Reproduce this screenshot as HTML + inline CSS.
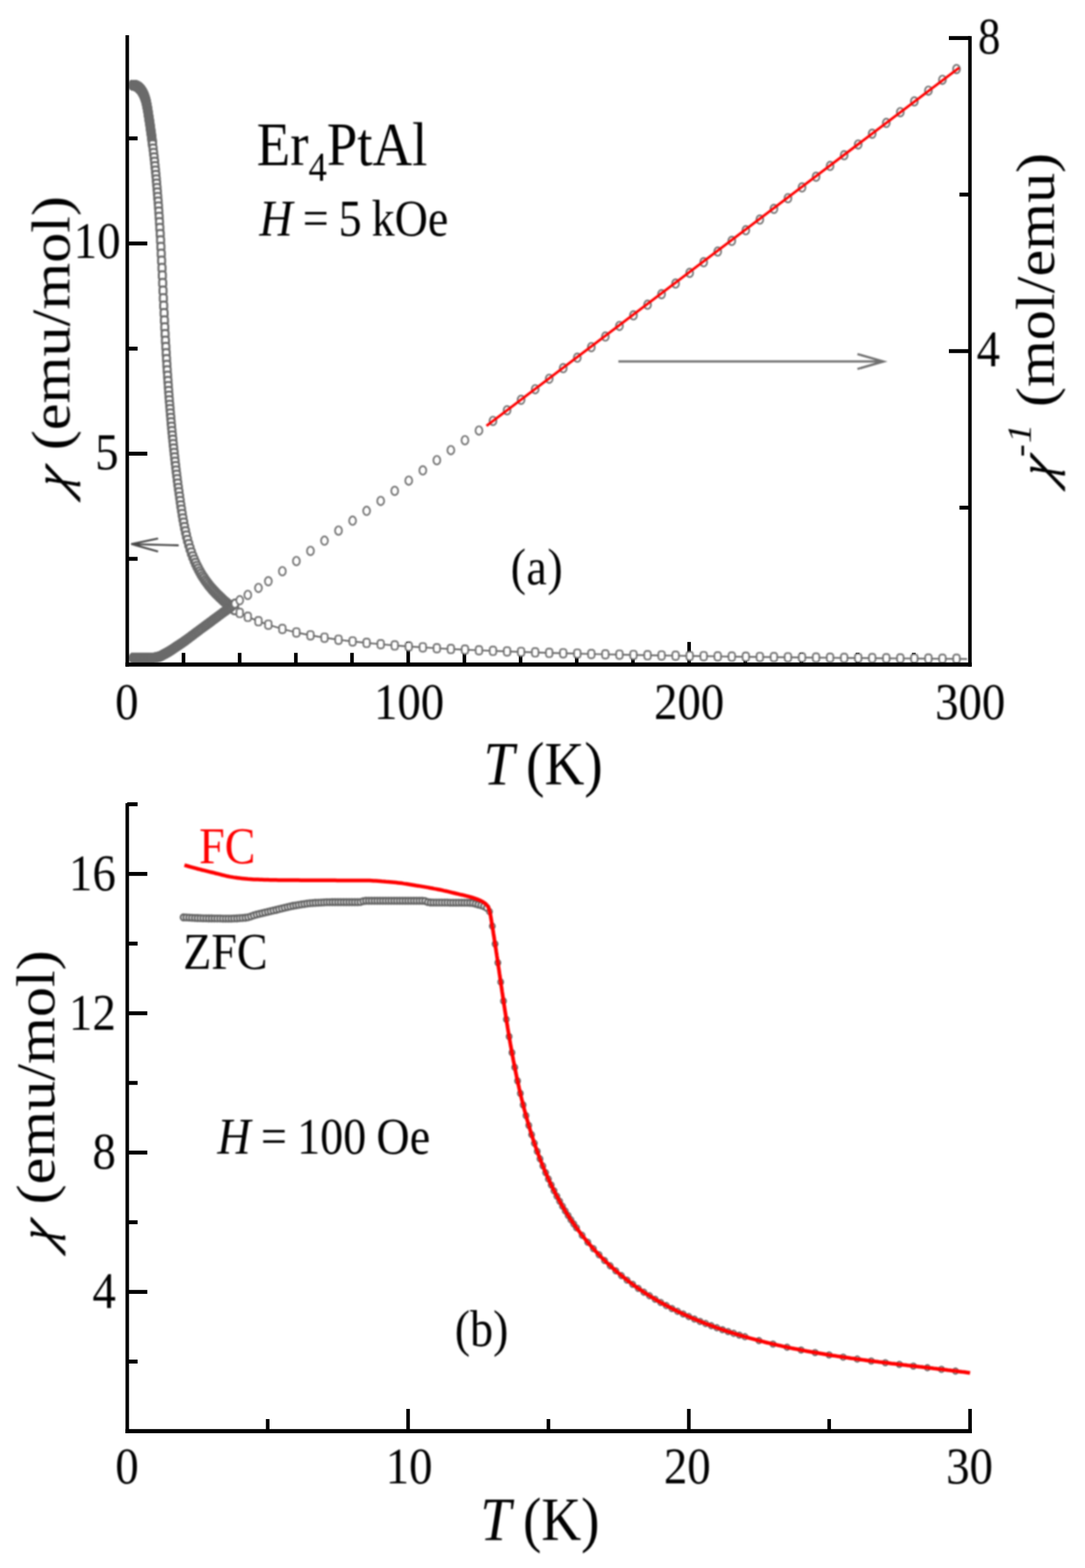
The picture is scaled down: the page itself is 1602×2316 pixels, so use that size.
<!DOCTYPE html>
<html lang="en">
<head>
<meta charset="utf-8">
<title>Er4PtAl magnetic susceptibility</title>
<style>
html, body { margin: 0; padding: 0; background: #ffffff; }
body { width: 1602px; height: 2316px; overflow: hidden; }
svg { display: block; }
.soft { filter: blur(0.8px); }
text { font-family: 'Liberation Serif', 'DejaVu Serif', serif; white-space: pre; }
</style>
</head>
<body>
<svg width="1602" height="2316" viewBox="0 0 1602 2316">
<rect width="1602" height="2316" fill="#ffffff"/>

<g>
<g id="panel-a">
<rect x="268.3" y="964.3" width="5.3" height="17.2" fill="#000"/>
<rect x="351.2" y="964.3" width="5.3" height="17.2" fill="#000"/>
<rect x="434.2" y="964.3" width="5.3" height="17.2" fill="#000"/>
<rect x="517.1" y="964.3" width="5.3" height="17.2" fill="#000"/>
<rect x="600.1" y="948.2" width="5.3" height="33.3" fill="#000"/>
<rect x="683" y="964.3" width="5.3" height="17.2" fill="#000"/>
<rect x="766" y="964.3" width="5.3" height="17.2" fill="#000"/>
<rect x="848.9" y="964.3" width="5.3" height="17.2" fill="#000"/>
<rect x="931.9" y="964.3" width="5.3" height="17.2" fill="#000"/>
<rect x="1014.8" y="948.2" width="5.3" height="33.3" fill="#000"/>
<rect x="1097.8" y="964.3" width="5.3" height="17.2" fill="#000"/>
<rect x="1180.7" y="964.3" width="5.3" height="17.2" fill="#000"/>
<rect x="1263.6" y="964.3" width="5.3" height="17.2" fill="#000"/>
<rect x="1346.6" y="964.3" width="5.3" height="17.2" fill="#000"/>
<rect x="187.9" y="201.5" width="15.3" height="5.8" fill="#000"/>
<rect x="187.9" y="356.7" width="29.6" height="5.8" fill="#000"/>
<rect x="187.9" y="512" width="15.3" height="5.8" fill="#000"/>
<rect x="187.9" y="667.2" width="29.6" height="5.8" fill="#000"/>
<rect x="187.9" y="822.5" width="15.3" height="5.8" fill="#000"/>
<rect x="1401" y="53.3" width="31.1" height="5.8" fill="#000"/>
<rect x="1416.6" y="284.5" width="15.5" height="5.8" fill="#000"/>
<rect x="1401" y="515.7" width="31.1" height="5.8" fill="#000"/>
<rect x="1416.6" y="746.9" width="15.5" height="5.8" fill="#000"/>
<g class="soft">
<path d="M354.0 905.3 L365.9 911.1 L381.6 917.6 L396.2 922.7 L416.9 929.0 L437.6 934.2 L458.4 938.4 L479.1 941.9 L499.8 944.9 L520.6 947.4 L541.3 949.6 L562.1 951.5 L582.8 953.3 L603.5 954.8 L624.3 956.2 L645.0 957.5 L665.7 958.6 L686.5 959.6 L707.2 960.5 L727.9 961.3 L748.7 962.2 L769.4 962.9 L790.2 963.6 L810.9 964.3 L831.6 964.9 L852.4 965.4 L873.1 966.0 L893.8 966.5 L914.6 966.9 L935.3 967.4 L956.1 967.8 L976.8 968.2 L997.5 968.5 L1018.3 968.9 L1039.0 969.2 L1059.7 969.5 L1080.5 969.8 L1101.2 970.1 L1121.9 970.4 L1142.7 970.6 L1163.4 970.9 L1184.2 971.1 L1204.9 971.3 L1225.6 971.5 L1246.4 971.8 L1267.1 971.9 L1287.8 972.1 L1308.6 972.3 L1329.3 972.5 L1350.0 972.7 L1370.8 972.8 L1391.5 973.0 L1412.3 973.1 L1428 973.4" fill="none" stroke="#555" stroke-width="2.2"/>
<g fill="#fff" stroke="#6b6b6b" stroke-width="3">
<rect x="191.1" y="119.4" width="10.4" height="12.6" rx="3.6"/>
<rect x="191.3" y="119.5" width="10.4" height="12.6" rx="3.6"/>
<rect x="191.5" y="119.5" width="10.4" height="12.6" rx="3.6"/>
<rect x="191.7" y="119.5" width="10.4" height="12.6" rx="3.6"/>
<rect x="191.9" y="119.5" width="10.4" height="12.6" rx="3.6"/>
<rect x="192.1" y="119.6" width="10.4" height="12.6" rx="3.6"/>
<rect x="192.3" y="119.6" width="10.4" height="12.6" rx="3.6"/>
<rect x="192.5" y="119.6" width="10.4" height="12.6" rx="3.6"/>
<rect x="192.8" y="119.7" width="10.4" height="12.6" rx="3.6"/>
<rect x="193.0" y="119.7" width="10.4" height="12.6" rx="3.6"/>
<rect x="193.2" y="119.8" width="10.4" height="12.6" rx="3.6"/>
<rect x="193.4" y="119.8" width="10.4" height="12.6" rx="3.6"/>
<rect x="193.6" y="119.9" width="10.4" height="12.6" rx="3.6"/>
<rect x="193.8" y="119.9" width="10.4" height="12.6" rx="3.6"/>
<rect x="194.0" y="120.0" width="10.4" height="12.6" rx="3.6"/>
<rect x="194.2" y="120.1" width="10.4" height="12.6" rx="3.6"/>
<rect x="194.4" y="120.1" width="10.4" height="12.6" rx="3.6"/>
<rect x="194.6" y="120.2" width="10.4" height="12.6" rx="3.6"/>
<rect x="194.8" y="120.3" width="10.4" height="12.6" rx="3.6"/>
<rect x="195.0" y="120.3" width="10.4" height="12.6" rx="3.6"/>
<rect x="195.2" y="120.4" width="10.4" height="12.6" rx="3.6"/>
<rect x="195.4" y="120.5" width="10.4" height="12.6" rx="3.6"/>
<rect x="195.7" y="120.6" width="10.4" height="12.6" rx="3.6"/>
<rect x="195.9" y="120.7" width="10.4" height="12.6" rx="3.6"/>
<rect x="196.1" y="120.8" width="10.4" height="12.6" rx="3.6"/>
<rect x="196.3" y="120.9" width="10.4" height="12.6" rx="3.6"/>
<rect x="196.5" y="121.0" width="10.4" height="12.6" rx="3.6"/>
<rect x="196.7" y="121.1" width="10.4" height="12.6" rx="3.6"/>
<rect x="196.9" y="121.2" width="10.4" height="12.6" rx="3.6"/>
<rect x="197.1" y="121.3" width="10.4" height="12.6" rx="3.6"/>
<rect x="197.3" y="121.4" width="10.4" height="12.6" rx="3.6"/>
<rect x="197.5" y="121.5" width="10.4" height="12.6" rx="3.6"/>
<rect x="197.7" y="121.7" width="10.4" height="12.6" rx="3.6"/>
<rect x="197.9" y="121.8" width="10.4" height="12.6" rx="3.6"/>
<rect x="198.1" y="121.9" width="10.4" height="12.6" rx="3.6"/>
<rect x="198.4" y="122.1" width="10.4" height="12.6" rx="3.6"/>
<rect x="198.6" y="122.2" width="10.4" height="12.6" rx="3.6"/>
<rect x="198.8" y="122.4" width="10.4" height="12.6" rx="3.6"/>
<rect x="199.0" y="122.5" width="10.4" height="12.6" rx="3.6"/>
<rect x="199.2" y="122.7" width="10.4" height="12.6" rx="3.6"/>
<rect x="199.4" y="122.8" width="10.4" height="12.6" rx="3.6"/>
<rect x="199.6" y="123.0" width="10.4" height="12.6" rx="3.6"/>
<rect x="199.8" y="123.2" width="10.4" height="12.6" rx="3.6"/>
<rect x="200.0" y="123.3" width="10.4" height="12.6" rx="3.6"/>
<rect x="200.2" y="123.5" width="10.4" height="12.6" rx="3.6"/>
<rect x="200.4" y="123.7" width="10.4" height="12.6" rx="3.6"/>
<rect x="200.6" y="123.9" width="10.4" height="12.6" rx="3.6"/>
<rect x="200.8" y="124.1" width="10.4" height="12.6" rx="3.6"/>
<rect x="201.0" y="124.3" width="10.4" height="12.6" rx="3.6"/>
<rect x="201.3" y="124.5" width="10.4" height="12.6" rx="3.6"/>
<rect x="201.5" y="124.7" width="10.4" height="12.6" rx="3.6"/>
<rect x="201.7" y="125.0" width="10.4" height="12.6" rx="3.6"/>
<rect x="201.9" y="125.2" width="10.4" height="12.6" rx="3.6"/>
<rect x="202.1" y="125.4" width="10.4" height="12.6" rx="3.6"/>
<rect x="202.3" y="125.7" width="10.4" height="12.6" rx="3.6"/>
<rect x="202.5" y="125.9" width="10.4" height="12.6" rx="3.6"/>
<rect x="202.7" y="126.2" width="10.4" height="12.6" rx="3.6"/>
<rect x="202.9" y="126.4" width="10.4" height="12.6" rx="3.6"/>
<rect x="203.1" y="126.7" width="10.4" height="12.6" rx="3.6"/>
<rect x="203.3" y="127.0" width="10.4" height="12.6" rx="3.6"/>
<rect x="203.5" y="127.3" width="10.4" height="12.6" rx="3.6"/>
<rect x="203.7" y="127.6" width="10.4" height="12.6" rx="3.6"/>
<rect x="204.0" y="127.9" width="10.4" height="12.6" rx="3.6"/>
<rect x="204.2" y="128.2" width="10.4" height="12.6" rx="3.6"/>
<rect x="204.4" y="128.5" width="10.4" height="12.6" rx="3.6"/>
<rect x="204.6" y="128.8" width="10.4" height="12.6" rx="3.6"/>
<rect x="204.8" y="129.2" width="10.4" height="12.6" rx="3.6"/>
<rect x="205.0" y="129.5" width="10.4" height="12.6" rx="3.6"/>
<rect x="205.2" y="129.9" width="10.4" height="12.6" rx="3.6"/>
<rect x="205.4" y="130.2" width="10.4" height="12.6" rx="3.6"/>
<rect x="205.6" y="130.6" width="10.4" height="12.6" rx="3.6"/>
<rect x="205.8" y="131.0" width="10.4" height="12.6" rx="3.6"/>
<rect x="206.0" y="131.4" width="10.4" height="12.6" rx="3.6"/>
<rect x="206.2" y="131.8" width="10.4" height="12.6" rx="3.6"/>
<rect x="206.4" y="132.2" width="10.4" height="12.6" rx="3.6"/>
<rect x="206.6" y="132.6" width="10.4" height="12.6" rx="3.6"/>
<rect x="206.9" y="133.1" width="10.4" height="12.6" rx="3.6"/>
<rect x="207.1" y="133.5" width="10.4" height="12.6" rx="3.6"/>
<rect x="207.3" y="134.0" width="10.4" height="12.6" rx="3.6"/>
<rect x="207.5" y="134.5" width="10.4" height="12.6" rx="3.6"/>
<rect x="207.7" y="135.0" width="10.4" height="12.6" rx="3.6"/>
<rect x="207.9" y="135.5" width="10.4" height="12.6" rx="3.6"/>
<rect x="208.1" y="136.0" width="10.4" height="12.6" rx="3.6"/>
<rect x="208.3" y="136.6" width="10.4" height="12.6" rx="3.6"/>
<rect x="208.5" y="137.1" width="10.4" height="12.6" rx="3.6"/>
<rect x="208.7" y="137.7" width="10.4" height="12.6" rx="3.6"/>
<rect x="208.9" y="138.3" width="10.4" height="12.6" rx="3.6"/>
<rect x="209.1" y="138.9" width="10.4" height="12.6" rx="3.6"/>
<rect x="209.3" y="139.6" width="10.4" height="12.6" rx="3.6"/>
<rect x="209.6" y="140.3" width="10.4" height="12.6" rx="3.6"/>
<rect x="209.8" y="141.0" width="10.4" height="12.6" rx="3.6"/>
<rect x="210.0" y="141.7" width="10.4" height="12.6" rx="3.6"/>
<rect x="210.2" y="142.5" width="10.4" height="12.6" rx="3.6"/>
<rect x="210.4" y="143.3" width="10.4" height="12.6" rx="3.6"/>
<rect x="210.6" y="144.1" width="10.4" height="12.6" rx="3.6"/>
<rect x="210.8" y="145.0" width="10.4" height="12.6" rx="3.6"/>
<rect x="211.0" y="145.9" width="10.4" height="12.6" rx="3.6"/>
<rect x="211.2" y="146.9" width="10.4" height="12.6" rx="3.6"/>
<rect x="211.4" y="147.9" width="10.4" height="12.6" rx="3.6"/>
<rect x="211.6" y="148.9" width="10.4" height="12.6" rx="3.6"/>
<rect x="211.8" y="150.0" width="10.4" height="12.6" rx="3.6"/>
<rect x="212.0" y="151.1" width="10.4" height="12.6" rx="3.6"/>
<rect x="212.2" y="152.3" width="10.4" height="12.6" rx="3.6"/>
<rect x="212.5" y="153.5" width="10.4" height="12.6" rx="3.6"/>
<rect x="212.7" y="154.8" width="10.4" height="12.6" rx="3.6"/>
<rect x="212.9" y="156.0" width="10.4" height="12.6" rx="3.6"/>
<rect x="213.1" y="157.3" width="10.4" height="12.6" rx="3.6"/>
<rect x="213.3" y="158.6" width="10.4" height="12.6" rx="3.6"/>
<rect x="213.5" y="159.9" width="10.4" height="12.6" rx="3.6"/>
<rect x="213.7" y="161.2" width="10.4" height="12.6" rx="3.6"/>
<rect x="213.9" y="162.5" width="10.4" height="12.6" rx="3.6"/>
<rect x="214.1" y="163.8" width="10.4" height="12.6" rx="3.6"/>
<rect x="214.3" y="165.1" width="10.4" height="12.6" rx="3.6"/>
<rect x="214.5" y="166.5" width="10.4" height="12.6" rx="3.6"/>
<rect x="214.7" y="167.8" width="10.4" height="12.6" rx="3.6"/>
<rect x="214.9" y="169.2" width="10.4" height="12.6" rx="3.6"/>
<rect x="215.1" y="170.6" width="10.4" height="12.6" rx="3.6"/>
<rect x="215.4" y="171.9" width="10.4" height="12.6" rx="3.6"/>
<rect x="215.6" y="173.3" width="10.4" height="12.6" rx="3.6"/>
<rect x="215.8" y="174.7" width="10.4" height="12.6" rx="3.6"/>
<rect x="216.0" y="176.2" width="10.4" height="12.6" rx="3.6"/>
<rect x="216.2" y="177.6" width="10.4" height="12.6" rx="3.6"/>
<rect x="216.4" y="179.0" width="10.4" height="12.6" rx="3.6"/>
<rect x="216.6" y="180.5" width="10.4" height="12.6" rx="3.6"/>
<rect x="216.8" y="181.9" width="10.4" height="12.6" rx="3.6"/>
<rect x="217.0" y="183.4" width="10.4" height="12.6" rx="3.6"/>
<rect x="217.2" y="184.9" width="10.4" height="12.6" rx="3.6"/>
<rect x="217.4" y="186.4" width="10.4" height="12.6" rx="3.6"/>
<rect x="217.6" y="187.9" width="10.4" height="12.6" rx="3.6"/>
<rect x="217.8" y="189.4" width="10.4" height="12.6" rx="3.6"/>
<rect x="218.1" y="191.0" width="10.4" height="12.6" rx="3.6"/>
<rect x="218.3" y="192.5" width="10.4" height="12.6" rx="3.6"/>
<rect x="218.5" y="194.1" width="10.4" height="12.6" rx="3.6"/>
<rect x="218.7" y="195.7" width="10.4" height="12.6" rx="3.6"/>
<rect x="218.9" y="197.3" width="10.4" height="12.6" rx="3.6"/>
<rect x="219.1" y="198.9" width="10.4" height="12.6" rx="3.6"/>
<rect x="219.3" y="200.5" width="10.4" height="12.6" rx="3.6"/>
<rect x="219.5" y="202.1" width="10.4" height="12.6" rx="3.6"/>
<rect x="219.7" y="203.8" width="10.4" height="12.6" rx="3.6"/>
<rect x="219.9" y="205.5" width="10.4" height="12.6" rx="3.6"/>
<rect x="220.1" y="207.2" width="10.4" height="12.6" rx="3.6"/>
<rect x="220.9" y="213.6" width="10.4" height="12.6" rx="3.6"/>
<rect x="221.6" y="220.1" width="10.4" height="12.6" rx="3.6"/>
<rect x="222.4" y="226.5" width="10.4" height="12.6" rx="3.6"/>
<rect x="223.1" y="233.0" width="10.4" height="12.6" rx="3.6"/>
<rect x="223.7" y="239.5" width="10.4" height="12.6" rx="3.6"/>
<rect x="224.4" y="245.9" width="10.4" height="12.6" rx="3.6"/>
<rect x="225.0" y="252.4" width="10.4" height="12.6" rx="3.6"/>
<rect x="225.6" y="258.9" width="10.4" height="12.6" rx="3.6"/>
<rect x="226.1" y="265.3" width="10.4" height="12.6" rx="3.6"/>
<rect x="226.7" y="271.8" width="10.4" height="12.6" rx="3.6"/>
<rect x="227.2" y="278.3" width="10.4" height="12.6" rx="3.6"/>
<rect x="227.7" y="284.9" width="10.4" height="12.6" rx="3.6"/>
<rect x="228.3" y="291.8" width="10.4" height="12.6" rx="3.6"/>
<rect x="228.8" y="298.9" width="10.4" height="12.6" rx="3.6"/>
<rect x="229.3" y="306.4" width="10.4" height="12.6" rx="3.6"/>
<rect x="229.8" y="314.2" width="10.4" height="12.6" rx="3.6"/>
<rect x="230.3" y="322.3" width="10.4" height="12.6" rx="3.6"/>
<rect x="230.8" y="330.8" width="10.4" height="12.6" rx="3.6"/>
<rect x="231.4" y="339.7" width="10.4" height="12.6" rx="3.6"/>
<rect x="231.9" y="349.0" width="10.4" height="12.6" rx="3.6"/>
<rect x="232.4" y="358.7" width="10.4" height="12.6" rx="3.6"/>
<rect x="232.9" y="368.7" width="10.4" height="12.6" rx="3.6"/>
<rect x="233.4" y="379.1" width="10.4" height="12.6" rx="3.6"/>
<rect x="234.0" y="389.8" width="10.4" height="12.6" rx="3.6"/>
<rect x="234.5" y="400.8" width="10.4" height="12.6" rx="3.6"/>
<rect x="235.0" y="412.0" width="10.4" height="12.6" rx="3.6"/>
<rect x="235.5" y="423.3" width="10.4" height="12.6" rx="3.6"/>
<rect x="236.0" y="434.5" width="10.4" height="12.6" rx="3.6"/>
<rect x="236.5" y="445.6" width="10.4" height="12.6" rx="3.6"/>
<rect x="237.1" y="456.6" width="10.4" height="12.6" rx="3.6"/>
<rect x="237.6" y="467.2" width="10.4" height="12.6" rx="3.6"/>
<rect x="238.1" y="477.5" width="10.4" height="12.6" rx="3.6"/>
<rect x="238.6" y="487.5" width="10.4" height="12.6" rx="3.6"/>
<rect x="239.1" y="497.2" width="10.4" height="12.6" rx="3.6"/>
<rect x="239.7" y="506.6" width="10.4" height="12.6" rx="3.6"/>
<rect x="240.2" y="515.7" width="10.4" height="12.6" rx="3.6"/>
<rect x="240.7" y="524.5" width="10.4" height="12.6" rx="3.6"/>
<rect x="241.2" y="532.9" width="10.4" height="12.6" rx="3.6"/>
<rect x="241.7" y="541.1" width="10.4" height="12.6" rx="3.6"/>
<rect x="242.3" y="549.1" width="10.4" height="12.6" rx="3.6"/>
<rect x="242.8" y="556.8" width="10.4" height="12.6" rx="3.6"/>
<rect x="243.3" y="564.2" width="10.4" height="12.6" rx="3.6"/>
<rect x="243.8" y="571.4" width="10.4" height="12.6" rx="3.6"/>
<rect x="244.3" y="578.4" width="10.4" height="12.6" rx="3.6"/>
<rect x="244.8" y="585.2" width="10.4" height="12.6" rx="3.6"/>
<rect x="245.4" y="591.9" width="10.4" height="12.6" rx="3.6"/>
<rect x="245.9" y="598.3" width="10.4" height="12.6" rx="3.6"/>
<rect x="246.4" y="604.8" width="10.4" height="12.6" rx="3.6"/>
<rect x="247.0" y="611.3" width="10.4" height="12.6" rx="3.6"/>
<rect x="247.5" y="617.8" width="10.4" height="12.6" rx="3.6"/>
<rect x="248.1" y="624.2" width="10.4" height="12.6" rx="3.6"/>
<rect x="248.7" y="630.7" width="10.4" height="12.6" rx="3.6"/>
<rect x="249.3" y="637.2" width="10.4" height="12.6" rx="3.6"/>
<rect x="250.0" y="643.6" width="10.4" height="12.6" rx="3.6"/>
<rect x="250.6" y="650.1" width="10.4" height="12.6" rx="3.6"/>
<rect x="251.3" y="656.6" width="10.4" height="12.6" rx="3.6"/>
<rect x="252.0" y="663.0" width="10.4" height="12.6" rx="3.6"/>
<rect x="252.7" y="669.5" width="10.4" height="12.6" rx="3.6"/>
<rect x="253.4" y="676.0" width="10.4" height="12.6" rx="3.6"/>
<rect x="254.2" y="682.4" width="10.4" height="12.6" rx="3.6"/>
<rect x="254.9" y="688.9" width="10.4" height="12.6" rx="3.6"/>
<rect x="255.7" y="695.3" width="10.4" height="12.6" rx="3.6"/>
<rect x="256.5" y="701.8" width="10.4" height="12.6" rx="3.6"/>
<rect x="257.3" y="708.2" width="10.4" height="12.6" rx="3.6"/>
<rect x="258.2" y="714.7" width="10.4" height="12.6" rx="3.6"/>
<rect x="259.1" y="721.1" width="10.4" height="12.6" rx="3.6"/>
<rect x="260.0" y="727.5" width="10.4" height="12.6" rx="3.6"/>
<rect x="260.9" y="734.0" width="10.4" height="12.6" rx="3.6"/>
<rect x="261.8" y="740.4" width="10.4" height="12.6" rx="3.6"/>
<rect x="262.8" y="746.8" width="10.4" height="12.6" rx="3.6"/>
<rect x="263.8" y="753.3" width="10.4" height="12.6" rx="3.6"/>
<rect x="264.9" y="759.7" width="10.4" height="12.6" rx="3.6"/>
<rect x="266.1" y="766.1" width="10.4" height="12.6" rx="3.6"/>
<rect x="267.3" y="772.4" width="10.4" height="12.6" rx="3.6"/>
<rect x="268.7" y="778.8" width="10.4" height="12.6" rx="3.6"/>
<rect x="270.1" y="785.1" width="10.4" height="12.6" rx="3.6"/>
<rect x="271.7" y="791.4" width="10.4" height="12.6" rx="3.6"/>
<rect x="273.5" y="797.7" width="10.4" height="12.6" rx="3.6"/>
<rect x="275.4" y="803.9" width="10.4" height="12.6" rx="3.6"/>
<rect x="277.4" y="810.1" width="10.4" height="12.6" rx="3.6"/>
<rect x="279.5" y="815.7" width="10.4" height="12.6" rx="3.6"/>
<rect x="281.6" y="820.8" width="10.4" height="12.6" rx="3.6"/>
<rect x="283.6" y="825.6" width="10.4" height="12.6" rx="3.6"/>
<rect x="285.7" y="830.0" width="10.4" height="12.6" rx="3.6"/>
<rect x="287.8" y="834.1" width="10.4" height="12.6" rx="3.6"/>
<rect x="289.9" y="838.0" width="10.4" height="12.6" rx="3.6"/>
<rect x="291.9" y="841.6" width="10.4" height="12.6" rx="3.6"/>
<rect x="294.0" y="844.9" width="10.4" height="12.6" rx="3.6"/>
<rect x="296.1" y="848.1" width="10.4" height="12.6" rx="3.6"/>
<rect x="298.2" y="851.2" width="10.4" height="12.6" rx="3.6"/>
<rect x="300.2" y="854.0" width="10.4" height="12.6" rx="3.6"/>
<rect x="302.3" y="856.8" width="10.4" height="12.6" rx="3.6"/>
<rect x="304.4" y="859.4" width="10.4" height="12.6" rx="3.6"/>
<rect x="306.5" y="861.9" width="10.4" height="12.6" rx="3.6"/>
<rect x="308.5" y="864.3" width="10.4" height="12.6" rx="3.6"/>
<rect x="310.6" y="866.6" width="10.4" height="12.6" rx="3.6"/>
<rect x="312.7" y="868.8" width="10.4" height="12.6" rx="3.6"/>
<rect x="314.7" y="870.9" width="10.4" height="12.6" rx="3.6"/>
<rect x="316.8" y="873.0" width="10.4" height="12.6" rx="3.6"/>
<rect x="318.9" y="875.1" width="10.4" height="12.6" rx="3.6"/>
<rect x="321.0" y="877.0" width="10.4" height="12.6" rx="3.6"/>
<rect x="323.0" y="879.0" width="10.4" height="12.6" rx="3.6"/>
<rect x="325.1" y="880.9" width="10.4" height="12.6" rx="3.6"/>
<rect x="327.2" y="882.7" width="10.4" height="12.6" rx="3.6"/>
<rect x="329.3" y="884.5" width="10.4" height="12.6" rx="3.6"/>
<rect x="331.3" y="886.3" width="10.4" height="12.6" rx="3.6"/>
<rect x="333.4" y="888.0" width="10.4" height="12.6" rx="3.6"/>
<rect x="335.5" y="889.7" width="10.4" height="12.6" rx="3.6"/>
<rect x="337.6" y="891.3" width="10.4" height="12.6" rx="3.6"/>
<rect x="339.6" y="893.0" width="10.4" height="12.6" rx="3.6"/>
<rect x="341.7" y="894.6" width="10.4" height="12.6" rx="3.6"/>
</g>
<g fill="#fff" stroke="#6b6b6b" stroke-width="3">
<ellipse cx="196.3" cy="971.8" rx="5.3" ry="6.3"/>
<ellipse cx="196.5" cy="971.8" rx="5.3" ry="6.3"/>
<ellipse cx="196.7" cy="971.8" rx="5.3" ry="6.3"/>
<ellipse cx="196.9" cy="971.8" rx="5.3" ry="6.3"/>
<ellipse cx="197.1" cy="971.8" rx="5.3" ry="6.3"/>
<ellipse cx="197.3" cy="971.8" rx="5.3" ry="6.3"/>
<ellipse cx="197.5" cy="971.8" rx="5.3" ry="6.3"/>
<ellipse cx="197.7" cy="971.8" rx="5.3" ry="6.3"/>
<ellipse cx="198.0" cy="971.8" rx="5.3" ry="6.3"/>
<ellipse cx="198.2" cy="971.8" rx="5.3" ry="6.3"/>
<ellipse cx="198.4" cy="971.8" rx="5.3" ry="6.3"/>
<ellipse cx="198.6" cy="971.8" rx="5.3" ry="6.3"/>
<ellipse cx="198.8" cy="971.8" rx="5.3" ry="6.3"/>
<ellipse cx="199.0" cy="971.8" rx="5.3" ry="6.3"/>
<ellipse cx="199.2" cy="971.8" rx="5.3" ry="6.3"/>
<ellipse cx="199.4" cy="971.8" rx="5.3" ry="6.3"/>
<ellipse cx="199.6" cy="971.8" rx="5.3" ry="6.3"/>
<ellipse cx="199.8" cy="971.8" rx="5.3" ry="6.3"/>
<ellipse cx="200.0" cy="971.8" rx="5.3" ry="6.3"/>
<ellipse cx="200.2" cy="971.8" rx="5.3" ry="6.3"/>
<ellipse cx="200.4" cy="971.8" rx="5.3" ry="6.3"/>
<ellipse cx="200.6" cy="971.8" rx="5.3" ry="6.3"/>
<ellipse cx="200.9" cy="971.8" rx="5.3" ry="6.3"/>
<ellipse cx="201.1" cy="971.8" rx="5.3" ry="6.3"/>
<ellipse cx="201.3" cy="971.8" rx="5.3" ry="6.3"/>
<ellipse cx="201.5" cy="971.8" rx="5.3" ry="6.3"/>
<ellipse cx="201.7" cy="971.8" rx="5.3" ry="6.3"/>
<ellipse cx="201.9" cy="971.8" rx="5.3" ry="6.3"/>
<ellipse cx="202.1" cy="971.8" rx="5.3" ry="6.3"/>
<ellipse cx="202.3" cy="971.8" rx="5.3" ry="6.3"/>
<ellipse cx="202.5" cy="971.8" rx="5.3" ry="6.3"/>
<ellipse cx="202.7" cy="971.8" rx="5.3" ry="6.3"/>
<ellipse cx="202.9" cy="971.8" rx="5.3" ry="6.3"/>
<ellipse cx="203.1" cy="971.8" rx="5.3" ry="6.3"/>
<ellipse cx="203.3" cy="971.8" rx="5.3" ry="6.3"/>
<ellipse cx="203.6" cy="971.8" rx="5.3" ry="6.3"/>
<ellipse cx="203.8" cy="971.8" rx="5.3" ry="6.3"/>
<ellipse cx="204.0" cy="971.8" rx="5.3" ry="6.3"/>
<ellipse cx="204.2" cy="971.8" rx="5.3" ry="6.3"/>
<ellipse cx="204.4" cy="971.8" rx="5.3" ry="6.3"/>
<ellipse cx="204.6" cy="971.8" rx="5.3" ry="6.3"/>
<ellipse cx="204.8" cy="971.8" rx="5.3" ry="6.3"/>
<ellipse cx="205.0" cy="971.8" rx="5.3" ry="6.3"/>
<ellipse cx="205.2" cy="971.8" rx="5.3" ry="6.3"/>
<ellipse cx="205.4" cy="971.8" rx="5.3" ry="6.3"/>
<ellipse cx="205.6" cy="971.8" rx="5.3" ry="6.3"/>
<ellipse cx="205.8" cy="971.8" rx="5.3" ry="6.3"/>
<ellipse cx="206.0" cy="971.8" rx="5.3" ry="6.3"/>
<ellipse cx="206.2" cy="971.8" rx="5.3" ry="6.3"/>
<ellipse cx="206.5" cy="971.8" rx="5.3" ry="6.3"/>
<ellipse cx="206.7" cy="971.8" rx="5.3" ry="6.3"/>
<ellipse cx="206.9" cy="971.8" rx="5.3" ry="6.3"/>
<ellipse cx="207.1" cy="971.8" rx="5.3" ry="6.3"/>
<ellipse cx="207.3" cy="971.8" rx="5.3" ry="6.3"/>
<ellipse cx="207.5" cy="971.8" rx="5.3" ry="6.3"/>
<ellipse cx="207.7" cy="971.8" rx="5.3" ry="6.3"/>
<ellipse cx="207.9" cy="971.8" rx="5.3" ry="6.3"/>
<ellipse cx="208.1" cy="971.8" rx="5.3" ry="6.3"/>
<ellipse cx="208.3" cy="971.8" rx="5.3" ry="6.3"/>
<ellipse cx="208.5" cy="971.8" rx="5.3" ry="6.3"/>
<ellipse cx="208.7" cy="971.8" rx="5.3" ry="6.3"/>
<ellipse cx="208.9" cy="971.8" rx="5.3" ry="6.3"/>
<ellipse cx="209.2" cy="971.8" rx="5.3" ry="6.3"/>
<ellipse cx="209.4" cy="971.8" rx="5.3" ry="6.3"/>
<ellipse cx="209.6" cy="971.8" rx="5.3" ry="6.3"/>
<ellipse cx="209.8" cy="971.8" rx="5.3" ry="6.3"/>
<ellipse cx="210.0" cy="971.8" rx="5.3" ry="6.3"/>
<ellipse cx="210.2" cy="971.8" rx="5.3" ry="6.3"/>
<ellipse cx="210.4" cy="971.8" rx="5.3" ry="6.3"/>
<ellipse cx="210.6" cy="971.8" rx="5.3" ry="6.3"/>
<ellipse cx="210.8" cy="971.8" rx="5.3" ry="6.3"/>
<ellipse cx="211.0" cy="971.8" rx="5.3" ry="6.3"/>
<ellipse cx="211.2" cy="971.8" rx="5.3" ry="6.3"/>
<ellipse cx="211.4" cy="971.8" rx="5.3" ry="6.3"/>
<ellipse cx="211.6" cy="971.8" rx="5.3" ry="6.3"/>
<ellipse cx="211.8" cy="971.8" rx="5.3" ry="6.3"/>
<ellipse cx="212.1" cy="971.8" rx="5.3" ry="6.3"/>
<ellipse cx="212.3" cy="971.8" rx="5.3" ry="6.3"/>
<ellipse cx="212.5" cy="971.8" rx="5.3" ry="6.3"/>
<ellipse cx="212.7" cy="971.8" rx="5.3" ry="6.3"/>
<ellipse cx="212.9" cy="971.8" rx="5.3" ry="6.3"/>
<ellipse cx="213.1" cy="971.8" rx="5.3" ry="6.3"/>
<ellipse cx="213.3" cy="971.8" rx="5.3" ry="6.3"/>
<ellipse cx="213.5" cy="971.8" rx="5.3" ry="6.3"/>
<ellipse cx="213.7" cy="971.8" rx="5.3" ry="6.3"/>
<ellipse cx="213.9" cy="971.8" rx="5.3" ry="6.3"/>
<ellipse cx="214.1" cy="971.8" rx="5.3" ry="6.3"/>
<ellipse cx="214.3" cy="971.8" rx="5.3" ry="6.3"/>
<ellipse cx="214.5" cy="971.8" rx="5.3" ry="6.3"/>
<ellipse cx="214.8" cy="971.8" rx="5.3" ry="6.3"/>
<ellipse cx="215.0" cy="971.8" rx="5.3" ry="6.3"/>
<ellipse cx="215.2" cy="971.8" rx="5.3" ry="6.3"/>
<ellipse cx="215.4" cy="971.8" rx="5.3" ry="6.3"/>
<ellipse cx="215.6" cy="971.8" rx="5.3" ry="6.3"/>
<ellipse cx="215.8" cy="971.8" rx="5.3" ry="6.3"/>
<ellipse cx="216.0" cy="971.8" rx="5.3" ry="6.3"/>
<ellipse cx="216.2" cy="971.8" rx="5.3" ry="6.3"/>
<ellipse cx="216.4" cy="971.8" rx="5.3" ry="6.3"/>
<ellipse cx="216.6" cy="971.8" rx="5.3" ry="6.3"/>
<ellipse cx="216.8" cy="971.8" rx="5.3" ry="6.3"/>
<ellipse cx="217.0" cy="971.8" rx="5.3" ry="6.3"/>
<ellipse cx="217.2" cy="971.8" rx="5.3" ry="6.3"/>
<ellipse cx="217.4" cy="971.8" rx="5.3" ry="6.3"/>
<ellipse cx="217.7" cy="971.8" rx="5.3" ry="6.3"/>
<ellipse cx="217.9" cy="971.8" rx="5.3" ry="6.3"/>
<ellipse cx="218.1" cy="971.8" rx="5.3" ry="6.3"/>
<ellipse cx="218.3" cy="971.8" rx="5.3" ry="6.3"/>
<ellipse cx="218.5" cy="971.8" rx="5.3" ry="6.3"/>
<ellipse cx="218.7" cy="971.8" rx="5.3" ry="6.3"/>
<ellipse cx="218.9" cy="971.8" rx="5.3" ry="6.3"/>
<ellipse cx="219.1" cy="971.8" rx="5.3" ry="6.3"/>
<ellipse cx="219.3" cy="971.8" rx="5.3" ry="6.3"/>
<ellipse cx="219.5" cy="971.8" rx="5.3" ry="6.3"/>
<ellipse cx="219.7" cy="971.8" rx="5.3" ry="6.3"/>
<ellipse cx="219.9" cy="971.8" rx="5.3" ry="6.3"/>
<ellipse cx="220.1" cy="971.8" rx="5.3" ry="6.3"/>
<ellipse cx="220.3" cy="971.8" rx="5.3" ry="6.3"/>
<ellipse cx="220.6" cy="971.8" rx="5.3" ry="6.3"/>
<ellipse cx="220.8" cy="971.8" rx="5.3" ry="6.3"/>
<ellipse cx="221.0" cy="971.8" rx="5.3" ry="6.3"/>
<ellipse cx="221.2" cy="971.8" rx="5.3" ry="6.3"/>
<ellipse cx="221.4" cy="971.8" rx="5.3" ry="6.3"/>
<ellipse cx="221.6" cy="971.8" rx="5.3" ry="6.3"/>
<ellipse cx="221.8" cy="971.8" rx="5.3" ry="6.3"/>
<ellipse cx="222.0" cy="971.8" rx="5.3" ry="6.3"/>
<ellipse cx="222.2" cy="971.8" rx="5.3" ry="6.3"/>
<ellipse cx="222.4" cy="971.8" rx="5.3" ry="6.3"/>
<ellipse cx="222.6" cy="971.8" rx="5.3" ry="6.3"/>
<ellipse cx="222.8" cy="971.8" rx="5.3" ry="6.3"/>
<ellipse cx="223.0" cy="971.8" rx="5.3" ry="6.3"/>
<ellipse cx="223.3" cy="971.8" rx="5.3" ry="6.3"/>
<ellipse cx="223.5" cy="971.8" rx="5.3" ry="6.3"/>
<ellipse cx="223.7" cy="971.8" rx="5.3" ry="6.3"/>
<ellipse cx="223.9" cy="971.8" rx="5.3" ry="6.3"/>
<ellipse cx="224.1" cy="971.8" rx="5.3" ry="6.3"/>
<ellipse cx="224.3" cy="971.8" rx="5.3" ry="6.3"/>
<ellipse cx="224.5" cy="971.8" rx="5.3" ry="6.3"/>
<ellipse cx="224.7" cy="971.8" rx="5.3" ry="6.3"/>
<ellipse cx="224.9" cy="971.8" rx="5.3" ry="6.3"/>
<ellipse cx="225.1" cy="971.8" rx="5.3" ry="6.3"/>
<ellipse cx="225.3" cy="971.8" rx="5.3" ry="6.3"/>
<ellipse cx="226.1" cy="971.8" rx="5.3" ry="6.3"/>
<ellipse cx="226.8" cy="971.7" rx="5.3" ry="6.3"/>
<ellipse cx="227.6" cy="971.6" rx="5.3" ry="6.3"/>
<ellipse cx="228.3" cy="971.5" rx="5.3" ry="6.3"/>
<ellipse cx="228.9" cy="971.4" rx="5.3" ry="6.3"/>
<ellipse cx="229.6" cy="971.3" rx="5.3" ry="6.3"/>
<ellipse cx="230.2" cy="971.2" rx="5.3" ry="6.3"/>
<ellipse cx="230.8" cy="971.1" rx="5.3" ry="6.3"/>
<ellipse cx="231.3" cy="971.0" rx="5.3" ry="6.3"/>
<ellipse cx="231.9" cy="970.8" rx="5.3" ry="6.3"/>
<ellipse cx="232.4" cy="970.7" rx="5.3" ry="6.3"/>
<ellipse cx="232.9" cy="970.6" rx="5.3" ry="6.3"/>
<ellipse cx="233.5" cy="970.4" rx="5.3" ry="6.3"/>
<ellipse cx="234.0" cy="970.3" rx="5.3" ry="6.3"/>
<ellipse cx="234.5" cy="970.1" rx="5.3" ry="6.3"/>
<ellipse cx="235.0" cy="970.0" rx="5.3" ry="6.3"/>
<ellipse cx="235.5" cy="969.8" rx="5.3" ry="6.3"/>
<ellipse cx="236.0" cy="969.7" rx="5.3" ry="6.3"/>
<ellipse cx="236.6" cy="969.4" rx="5.3" ry="6.3"/>
<ellipse cx="237.1" cy="969.2" rx="5.3" ry="6.3"/>
<ellipse cx="237.6" cy="969.0" rx="5.3" ry="6.3"/>
<ellipse cx="238.1" cy="968.7" rx="5.3" ry="6.3"/>
<ellipse cx="238.6" cy="968.4" rx="5.3" ry="6.3"/>
<ellipse cx="239.2" cy="968.1" rx="5.3" ry="6.3"/>
<ellipse cx="239.7" cy="967.8" rx="5.3" ry="6.3"/>
<ellipse cx="240.2" cy="967.5" rx="5.3" ry="6.3"/>
<ellipse cx="240.7" cy="967.2" rx="5.3" ry="6.3"/>
<ellipse cx="241.2" cy="966.9" rx="5.3" ry="6.3"/>
<ellipse cx="241.7" cy="966.6" rx="5.3" ry="6.3"/>
<ellipse cx="242.3" cy="966.4" rx="5.3" ry="6.3"/>
<ellipse cx="242.8" cy="966.1" rx="5.3" ry="6.3"/>
<ellipse cx="243.3" cy="965.8" rx="5.3" ry="6.3"/>
<ellipse cx="243.8" cy="965.5" rx="5.3" ry="6.3"/>
<ellipse cx="244.3" cy="965.3" rx="5.3" ry="6.3"/>
<ellipse cx="244.9" cy="965.0" rx="5.3" ry="6.3"/>
<ellipse cx="245.4" cy="964.7" rx="5.3" ry="6.3"/>
<ellipse cx="245.9" cy="964.4" rx="5.3" ry="6.3"/>
<ellipse cx="246.4" cy="964.1" rx="5.3" ry="6.3"/>
<ellipse cx="246.9" cy="963.8" rx="5.3" ry="6.3"/>
<ellipse cx="247.5" cy="963.5" rx="5.3" ry="6.3"/>
<ellipse cx="248.0" cy="963.2" rx="5.3" ry="6.3"/>
<ellipse cx="248.5" cy="963.0" rx="5.3" ry="6.3"/>
<ellipse cx="249.0" cy="962.6" rx="5.3" ry="6.3"/>
<ellipse cx="249.5" cy="962.3" rx="5.3" ry="6.3"/>
<ellipse cx="250.0" cy="962.0" rx="5.3" ry="6.3"/>
<ellipse cx="250.6" cy="961.7" rx="5.3" ry="6.3"/>
<ellipse cx="251.1" cy="961.4" rx="5.3" ry="6.3"/>
<ellipse cx="251.6" cy="961.1" rx="5.3" ry="6.3"/>
<ellipse cx="252.2" cy="960.7" rx="5.3" ry="6.3"/>
<ellipse cx="252.7" cy="960.3" rx="5.3" ry="6.3"/>
<ellipse cx="253.3" cy="960.0" rx="5.3" ry="6.3"/>
<ellipse cx="253.9" cy="959.6" rx="5.3" ry="6.3"/>
<ellipse cx="254.5" cy="959.2" rx="5.3" ry="6.3"/>
<ellipse cx="255.2" cy="958.7" rx="5.3" ry="6.3"/>
<ellipse cx="255.8" cy="958.3" rx="5.3" ry="6.3"/>
<ellipse cx="256.5" cy="957.8" rx="5.3" ry="6.3"/>
<ellipse cx="257.2" cy="957.4" rx="5.3" ry="6.3"/>
<ellipse cx="257.9" cy="956.9" rx="5.3" ry="6.3"/>
<ellipse cx="258.6" cy="956.4" rx="5.3" ry="6.3"/>
<ellipse cx="259.4" cy="955.9" rx="5.3" ry="6.3"/>
<ellipse cx="260.1" cy="955.4" rx="5.3" ry="6.3"/>
<ellipse cx="260.9" cy="954.9" rx="5.3" ry="6.3"/>
<ellipse cx="261.7" cy="954.3" rx="5.3" ry="6.3"/>
<ellipse cx="262.5" cy="953.8" rx="5.3" ry="6.3"/>
<ellipse cx="263.4" cy="953.2" rx="5.3" ry="6.3"/>
<ellipse cx="264.3" cy="952.6" rx="5.3" ry="6.3"/>
<ellipse cx="265.2" cy="952.1" rx="5.3" ry="6.3"/>
<ellipse cx="266.1" cy="951.4" rx="5.3" ry="6.3"/>
<ellipse cx="267.0" cy="950.8" rx="5.3" ry="6.3"/>
<ellipse cx="268.0" cy="950.2" rx="5.3" ry="6.3"/>
<ellipse cx="269.0" cy="949.5" rx="5.3" ry="6.3"/>
<ellipse cx="270.1" cy="948.7" rx="5.3" ry="6.3"/>
<ellipse cx="271.3" cy="947.9" rx="5.3" ry="6.3"/>
<ellipse cx="272.5" cy="947.0" rx="5.3" ry="6.3"/>
<ellipse cx="273.9" cy="946.0" rx="5.3" ry="6.3"/>
<ellipse cx="275.3" cy="945.0" rx="5.3" ry="6.3"/>
<ellipse cx="276.9" cy="943.8" rx="5.3" ry="6.3"/>
<ellipse cx="278.7" cy="942.5" rx="5.3" ry="6.3"/>
<ellipse cx="280.6" cy="941.1" rx="5.3" ry="6.3"/>
<ellipse cx="282.6" cy="939.5" rx="5.3" ry="6.3"/>
<ellipse cx="284.7" cy="938.0" rx="5.3" ry="6.3"/>
<ellipse cx="286.8" cy="936.4" rx="5.3" ry="6.3"/>
<ellipse cx="288.8" cy="934.8" rx="5.3" ry="6.3"/>
<ellipse cx="290.9" cy="933.3" rx="5.3" ry="6.3"/>
<ellipse cx="293.0" cy="931.8" rx="5.3" ry="6.3"/>
<ellipse cx="295.1" cy="930.2" rx="5.3" ry="6.3"/>
<ellipse cx="297.1" cy="928.7" rx="5.3" ry="6.3"/>
<ellipse cx="299.2" cy="927.2" rx="5.3" ry="6.3"/>
<ellipse cx="301.3" cy="925.6" rx="5.3" ry="6.3"/>
<ellipse cx="303.4" cy="924.1" rx="5.3" ry="6.3"/>
<ellipse cx="305.4" cy="922.6" rx="5.3" ry="6.3"/>
<ellipse cx="307.5" cy="921.1" rx="5.3" ry="6.3"/>
<ellipse cx="309.6" cy="919.5" rx="5.3" ry="6.3"/>
<ellipse cx="311.7" cy="918.0" rx="5.3" ry="6.3"/>
<ellipse cx="313.7" cy="916.4" rx="5.3" ry="6.3"/>
<ellipse cx="315.8" cy="914.9" rx="5.3" ry="6.3"/>
<ellipse cx="317.9" cy="913.4" rx="5.3" ry="6.3"/>
<ellipse cx="319.9" cy="911.8" rx="5.3" ry="6.3"/>
<ellipse cx="322.0" cy="910.3" rx="5.3" ry="6.3"/>
<ellipse cx="324.1" cy="908.7" rx="5.3" ry="6.3"/>
<ellipse cx="326.2" cy="907.2" rx="5.3" ry="6.3"/>
<ellipse cx="328.2" cy="905.6" rx="5.3" ry="6.3"/>
<ellipse cx="330.3" cy="904.1" rx="5.3" ry="6.3"/>
<ellipse cx="332.4" cy="902.6" rx="5.3" ry="6.3"/>
<ellipse cx="334.5" cy="901.1" rx="5.3" ry="6.3"/>
<ellipse cx="336.5" cy="899.5" rx="5.3" ry="6.3"/>
<ellipse cx="338.6" cy="898.0" rx="5.3" ry="6.3"/>
<ellipse cx="340.7" cy="896.5" rx="5.3" ry="6.3"/>
<ellipse cx="342.8" cy="894.9" rx="5.3" ry="6.3"/>
<ellipse cx="344.8" cy="893.4" rx="5.3" ry="6.3"/>
<ellipse cx="346.9" cy="891.8" rx="5.3" ry="6.3"/>
</g>
<g fill="#fff" stroke="#6e6e6e" stroke-width="2.4">
<rect x="349.2" y="899.0" width="9.6" height="12.6" rx="3.6"/>
<rect x="361.1" y="904.8" width="9.6" height="12.6" rx="3.6"/>
<rect x="376.8" y="911.3" width="9.6" height="12.6" rx="3.6"/>
<rect x="391.4" y="916.4" width="9.6" height="12.6" rx="3.6"/>
<rect x="412.1" y="922.7" width="9.6" height="12.6" rx="3.6"/>
<rect x="432.8" y="927.9" width="9.6" height="12.6" rx="3.6"/>
<rect x="453.6" y="932.1" width="9.6" height="12.6" rx="3.6"/>
<rect x="474.3" y="935.6" width="9.6" height="12.6" rx="3.6"/>
<rect x="495.0" y="938.6" width="9.6" height="12.6" rx="3.6"/>
<rect x="515.8" y="941.1" width="9.6" height="12.6" rx="3.6"/>
<rect x="536.5" y="943.3" width="9.6" height="12.6" rx="3.6"/>
<rect x="557.3" y="945.2" width="9.6" height="12.6" rx="3.6"/>
<rect x="578.0" y="947.0" width="9.6" height="12.6" rx="3.6"/>
<rect x="598.7" y="948.5" width="9.6" height="12.6" rx="3.6"/>
<rect x="619.5" y="949.9" width="9.6" height="12.6" rx="3.6"/>
<rect x="640.2" y="951.2" width="9.6" height="12.6" rx="3.6"/>
<rect x="660.9" y="952.3" width="9.6" height="12.6" rx="3.6"/>
<rect x="681.7" y="953.3" width="9.6" height="12.6" rx="3.6"/>
<rect x="702.4" y="954.2" width="9.6" height="12.6" rx="3.6"/>
<rect x="723.1" y="955.0" width="9.6" height="12.6" rx="3.6"/>
<rect x="743.9" y="955.9" width="9.6" height="12.6" rx="3.6"/>
<rect x="764.6" y="956.6" width="9.6" height="12.6" rx="3.6"/>
<rect x="785.4" y="957.3" width="9.6" height="12.6" rx="3.6"/>
<rect x="806.1" y="958.0" width="9.6" height="12.6" rx="3.6"/>
<rect x="826.8" y="958.6" width="9.6" height="12.6" rx="3.6"/>
<rect x="847.6" y="959.1" width="9.6" height="12.6" rx="3.6"/>
<rect x="868.3" y="959.7" width="9.6" height="12.6" rx="3.6"/>
<rect x="889.0" y="960.2" width="9.6" height="12.6" rx="3.6"/>
<rect x="909.8" y="960.6" width="9.6" height="12.6" rx="3.6"/>
<rect x="930.5" y="961.1" width="9.6" height="12.6" rx="3.6"/>
<rect x="951.3" y="961.5" width="9.6" height="12.6" rx="3.6"/>
<rect x="972.0" y="961.9" width="9.6" height="12.6" rx="3.6"/>
<rect x="992.7" y="962.2" width="9.6" height="12.6" rx="3.6"/>
<rect x="1013.5" y="962.6" width="9.6" height="12.6" rx="3.6"/>
<rect x="1034.2" y="962.9" width="9.6" height="12.6" rx="3.6"/>
<rect x="1054.9" y="963.2" width="9.6" height="12.6" rx="3.6"/>
<rect x="1075.7" y="963.5" width="9.6" height="12.6" rx="3.6"/>
<rect x="1096.4" y="963.8" width="9.6" height="12.6" rx="3.6"/>
<rect x="1117.1" y="964.1" width="9.6" height="12.6" rx="3.6"/>
<rect x="1137.9" y="964.3" width="9.6" height="12.6" rx="3.6"/>
<rect x="1158.6" y="964.6" width="9.6" height="12.6" rx="3.6"/>
<rect x="1179.4" y="964.8" width="9.6" height="12.6" rx="3.6"/>
<rect x="1200.1" y="965.0" width="9.6" height="12.6" rx="3.6"/>
<rect x="1220.8" y="965.2" width="9.6" height="12.6" rx="3.6"/>
<rect x="1241.6" y="965.5" width="9.6" height="12.6" rx="3.6"/>
<rect x="1262.3" y="965.6" width="9.6" height="12.6" rx="3.6"/>
<rect x="1283.0" y="965.8" width="9.6" height="12.6" rx="3.6"/>
<rect x="1303.8" y="966.0" width="9.6" height="12.6" rx="3.6"/>
<rect x="1324.5" y="966.2" width="9.6" height="12.6" rx="3.6"/>
<rect x="1345.2" y="966.4" width="9.6" height="12.6" rx="3.6"/>
<rect x="1366.0" y="966.5" width="9.6" height="12.6" rx="3.6"/>
<rect x="1386.7" y="966.7" width="9.6" height="12.6" rx="3.6"/>
<rect x="1407.5" y="966.8" width="9.6" height="12.6" rx="3.6"/>
</g>
<g fill="#fff" stroke="#6e6e6e" stroke-width="2.4">
<ellipse cx="354.0" cy="886.6" rx="5.1" ry="6.3"/>
<ellipse cx="365.9" cy="878.7" rx="5.1" ry="6.3"/>
<ellipse cx="381.6" cy="868.4" rx="5.1" ry="6.3"/>
<ellipse cx="396.2" cy="858.5" rx="5.1" ry="6.3"/>
<ellipse cx="416.9" cy="843.7" rx="5.1" ry="6.3"/>
<ellipse cx="437.6" cy="828.7" rx="5.1" ry="6.3"/>
<ellipse cx="458.4" cy="813.7" rx="5.1" ry="6.3"/>
<ellipse cx="479.1" cy="798.6" rx="5.1" ry="6.3"/>
<ellipse cx="499.8" cy="783.7" rx="5.1" ry="6.3"/>
<ellipse cx="520.6" cy="769.1" rx="5.1" ry="6.3"/>
<ellipse cx="541.3" cy="754.6" rx="5.1" ry="6.3"/>
<ellipse cx="562.1" cy="739.9" rx="5.1" ry="6.3"/>
<ellipse cx="582.8" cy="725.0" rx="5.1" ry="6.3"/>
<ellipse cx="603.5" cy="709.9" rx="5.1" ry="6.3"/>
<ellipse cx="624.3" cy="694.8" rx="5.1" ry="6.3"/>
<ellipse cx="645.0" cy="679.7" rx="5.1" ry="6.3"/>
<ellipse cx="665.7" cy="664.9" rx="5.1" ry="6.3"/>
<ellipse cx="686.5" cy="650.2" rx="5.1" ry="6.3"/>
<ellipse cx="707.2" cy="635.9" rx="5.1" ry="6.3"/>
<ellipse cx="727.9" cy="621.7" rx="5.1" ry="6.3"/>
<ellipse cx="748.7" cy="606.0" rx="5.1" ry="6.3"/>
<ellipse cx="769.4" cy="590.5" rx="5.1" ry="6.3"/>
<ellipse cx="790.2" cy="574.9" rx="5.1" ry="6.3"/>
<ellipse cx="810.9" cy="559.4" rx="5.1" ry="6.3"/>
<ellipse cx="831.6" cy="543.8" rx="5.1" ry="6.3"/>
<ellipse cx="852.4" cy="528.3" rx="5.1" ry="6.3"/>
<ellipse cx="873.1" cy="512.7" rx="5.1" ry="6.3"/>
<ellipse cx="893.8" cy="497.1" rx="5.1" ry="6.3"/>
<ellipse cx="914.6" cy="481.4" rx="5.1" ry="6.3"/>
<ellipse cx="935.3" cy="465.8" rx="5.1" ry="6.3"/>
<ellipse cx="956.1" cy="450.1" rx="5.1" ry="6.3"/>
<ellipse cx="976.8" cy="434.5" rx="5.1" ry="6.3"/>
<ellipse cx="997.5" cy="418.8" rx="5.1" ry="6.3"/>
<ellipse cx="1018.3" cy="403.0" rx="5.1" ry="6.3"/>
<ellipse cx="1039.0" cy="387.3" rx="5.1" ry="6.3"/>
<ellipse cx="1059.7" cy="371.6" rx="5.1" ry="6.3"/>
<ellipse cx="1080.5" cy="355.8" rx="5.1" ry="6.3"/>
<ellipse cx="1101.2" cy="340.1" rx="5.1" ry="6.3"/>
<ellipse cx="1121.9" cy="324.3" rx="5.1" ry="6.3"/>
<ellipse cx="1142.7" cy="308.5" rx="5.1" ry="6.3"/>
<ellipse cx="1163.4" cy="292.7" rx="5.1" ry="6.3"/>
<ellipse cx="1184.2" cy="276.8" rx="5.1" ry="6.3"/>
<ellipse cx="1204.9" cy="261.0" rx="5.1" ry="6.3"/>
<ellipse cx="1225.6" cy="245.1" rx="5.1" ry="6.3"/>
<ellipse cx="1246.4" cy="229.3" rx="5.1" ry="6.3"/>
<ellipse cx="1267.1" cy="213.4" rx="5.1" ry="6.3"/>
<ellipse cx="1287.8" cy="197.5" rx="5.1" ry="6.3"/>
<ellipse cx="1308.6" cy="181.6" rx="5.1" ry="6.3"/>
<ellipse cx="1329.3" cy="165.7" rx="5.1" ry="6.3"/>
<ellipse cx="1350.0" cy="149.8" rx="5.1" ry="6.3"/>
<ellipse cx="1370.8" cy="133.9" rx="5.1" ry="6.3"/>
<ellipse cx="1391.5" cy="117.9" rx="5.1" ry="6.3"/>
<ellipse cx="1412.3" cy="102.0" rx="5.1" ry="6.3"/>
</g>
<line x1="718.3" y1="629" x2="1416.3" y2="99.9" stroke="#ff0000" stroke-width="3.8"/>
<g fill="none" stroke="#484848" stroke-width="2.9"><path d="M263.8 805.5 L193.5 803.6 M233.4 795.4 L194 803.6 L233.4 814.6"/></g>
<g fill="none" stroke="#707070" stroke-width="3.3"><path d="M913 533.9 L1304.5 533.9 M1266 523 L1304.5 533.9 L1266 545"/></g>
</g>
<rect x="185.3" y="52" width="5.2" height="932.5" fill="#000"/>
<rect x="185.3" y="978.5" width="1249.4" height="6.1" fill="#000"/>
<rect x="1429.5" y="53.3" width="5.2" height="931.2" fill="#000"/>
</g>
<g id="panel-b">
<rect x="392.6" y="2096" width="5.3" height="17.8" fill="#000"/>
<rect x="599.9" y="2081" width="5.3" height="32.8" fill="#000"/>
<rect x="807.1" y="2096" width="5.3" height="17.8" fill="#000"/>
<rect x="1014.4" y="2081" width="5.3" height="32.8" fill="#000"/>
<rect x="1221.6" y="2096" width="5.3" height="17.8" fill="#000"/>
<rect x="1429.6" y="2081" width="5.3" height="32.8" fill="#000"/>
<rect x="187.9" y="2008.2" width="15.3" height="5.8" fill="#000"/>
<rect x="187.9" y="1905.3" width="29.6" height="5.8" fill="#000"/>
<rect x="187.9" y="1802.4" width="15.3" height="5.8" fill="#000"/>
<rect x="187.9" y="1699.5" width="29.6" height="5.8" fill="#000"/>
<rect x="187.9" y="1596.6" width="15.3" height="5.8" fill="#000"/>
<rect x="187.9" y="1493.7" width="29.6" height="5.8" fill="#000"/>
<rect x="187.9" y="1390.8" width="15.3" height="5.8" fill="#000"/>
<rect x="187.9" y="1287.9" width="29.6" height="5.8" fill="#000"/>
<rect x="187.9" y="1185" width="15.3" height="5.8" fill="#000"/>
<g class="soft">
<g fill="#fff" stroke="#626262" stroke-width="2.8">
<ellipse cx="270.9" cy="1355.0" rx="4.2" ry="4.5"/>
<ellipse cx="275.0" cy="1355.1" rx="4.2" ry="4.5"/>
<ellipse cx="279.2" cy="1355.3" rx="4.2" ry="4.5"/>
<ellipse cx="283.3" cy="1355.6" rx="4.2" ry="4.5"/>
<ellipse cx="287.5" cy="1355.8" rx="4.2" ry="4.5"/>
<ellipse cx="291.6" cy="1356.0" rx="4.2" ry="4.5"/>
<ellipse cx="295.8" cy="1356.2" rx="4.2" ry="4.5"/>
<ellipse cx="299.9" cy="1356.3" rx="4.2" ry="4.5"/>
<ellipse cx="304.1" cy="1356.4" rx="4.2" ry="4.5"/>
<ellipse cx="308.2" cy="1356.5" rx="4.2" ry="4.5"/>
<ellipse cx="312.4" cy="1356.5" rx="4.2" ry="4.5"/>
<ellipse cx="316.5" cy="1356.6" rx="4.2" ry="4.5"/>
<ellipse cx="320.6" cy="1356.7" rx="4.2" ry="4.5"/>
<ellipse cx="324.8" cy="1356.7" rx="4.2" ry="4.5"/>
<ellipse cx="328.9" cy="1356.8" rx="4.2" ry="4.5"/>
<ellipse cx="333.1" cy="1356.8" rx="4.2" ry="4.5"/>
<ellipse cx="337.2" cy="1356.8" rx="4.2" ry="4.5"/>
<ellipse cx="341.4" cy="1356.8" rx="4.2" ry="4.5"/>
<ellipse cx="345.5" cy="1356.7" rx="4.2" ry="4.5"/>
<ellipse cx="349.7" cy="1356.5" rx="4.2" ry="4.5"/>
<ellipse cx="353.8" cy="1356.2" rx="4.2" ry="4.5"/>
<ellipse cx="357.9" cy="1355.9" rx="4.2" ry="4.5"/>
<ellipse cx="362.1" cy="1355.5" rx="4.2" ry="4.5"/>
<ellipse cx="366.2" cy="1354.8" rx="4.2" ry="4.5"/>
<ellipse cx="370.4" cy="1353.6" rx="4.2" ry="4.5"/>
<ellipse cx="374.5" cy="1352.2" rx="4.2" ry="4.5"/>
<ellipse cx="378.7" cy="1350.9" rx="4.2" ry="4.5"/>
<ellipse cx="382.8" cy="1349.8" rx="4.2" ry="4.5"/>
<ellipse cx="387.0" cy="1348.8" rx="4.2" ry="4.5"/>
<ellipse cx="391.1" cy="1347.8" rx="4.2" ry="4.5"/>
<ellipse cx="395.3" cy="1346.8" rx="4.2" ry="4.5"/>
<ellipse cx="399.4" cy="1345.9" rx="4.2" ry="4.5"/>
<ellipse cx="403.5" cy="1344.9" rx="4.2" ry="4.5"/>
<ellipse cx="407.7" cy="1344.0" rx="4.2" ry="4.5"/>
<ellipse cx="411.8" cy="1342.9" rx="4.2" ry="4.5"/>
<ellipse cx="416.0" cy="1341.9" rx="4.2" ry="4.5"/>
<ellipse cx="420.1" cy="1340.8" rx="4.2" ry="4.5"/>
<ellipse cx="424.3" cy="1339.8" rx="4.2" ry="4.5"/>
<ellipse cx="428.4" cy="1338.9" rx="4.2" ry="4.5"/>
<ellipse cx="432.6" cy="1338.0" rx="4.2" ry="4.5"/>
<ellipse cx="436.7" cy="1337.3" rx="4.2" ry="4.5"/>
<ellipse cx="440.8" cy="1336.6" rx="4.2" ry="4.5"/>
<ellipse cx="445.0" cy="1335.9" rx="4.2" ry="4.5"/>
<ellipse cx="449.1" cy="1335.3" rx="4.2" ry="4.5"/>
<ellipse cx="453.3" cy="1334.7" rx="4.2" ry="4.5"/>
<ellipse cx="457.4" cy="1334.2" rx="4.2" ry="4.5"/>
<ellipse cx="461.6" cy="1333.8" rx="4.2" ry="4.5"/>
<ellipse cx="465.7" cy="1333.5" rx="4.2" ry="4.5"/>
<ellipse cx="469.9" cy="1333.3" rx="4.2" ry="4.5"/>
<ellipse cx="474.0" cy="1333.1" rx="4.2" ry="4.5"/>
<ellipse cx="478.2" cy="1332.9" rx="4.2" ry="4.5"/>
<ellipse cx="482.3" cy="1332.7" rx="4.2" ry="4.5"/>
<ellipse cx="486.4" cy="1332.6" rx="4.2" ry="4.5"/>
<ellipse cx="490.6" cy="1332.5" rx="4.2" ry="4.5"/>
<ellipse cx="494.7" cy="1332.5" rx="4.2" ry="4.5"/>
<ellipse cx="498.9" cy="1332.5" rx="4.2" ry="4.5"/>
<ellipse cx="503.0" cy="1332.5" rx="4.2" ry="4.5"/>
<ellipse cx="507.2" cy="1332.5" rx="4.2" ry="4.5"/>
<ellipse cx="511.3" cy="1332.5" rx="4.2" ry="4.5"/>
<ellipse cx="515.5" cy="1332.5" rx="4.2" ry="4.5"/>
<ellipse cx="519.6" cy="1332.5" rx="4.2" ry="4.5"/>
<ellipse cx="523.7" cy="1332.5" rx="4.2" ry="4.5"/>
<ellipse cx="527.9" cy="1332.5" rx="4.2" ry="4.5"/>
<ellipse cx="532.0" cy="1332.3" rx="4.2" ry="4.5"/>
<ellipse cx="536.2" cy="1331.2" rx="4.2" ry="4.5"/>
<ellipse cx="540.3" cy="1330.5" rx="4.2" ry="4.5"/>
<ellipse cx="544.5" cy="1330.5" rx="4.2" ry="4.5"/>
<ellipse cx="548.6" cy="1330.5" rx="4.2" ry="4.5"/>
<ellipse cx="552.8" cy="1330.5" rx="4.2" ry="4.5"/>
<ellipse cx="556.9" cy="1330.5" rx="4.2" ry="4.5"/>
<ellipse cx="561.1" cy="1330.5" rx="4.2" ry="4.5"/>
<ellipse cx="565.2" cy="1330.5" rx="4.2" ry="4.5"/>
<ellipse cx="569.3" cy="1330.5" rx="4.2" ry="4.5"/>
<ellipse cx="573.5" cy="1330.5" rx="4.2" ry="4.5"/>
<ellipse cx="577.6" cy="1330.5" rx="4.2" ry="4.5"/>
<ellipse cx="581.8" cy="1330.5" rx="4.2" ry="4.5"/>
<ellipse cx="585.9" cy="1330.5" rx="4.2" ry="4.5"/>
<ellipse cx="590.1" cy="1330.5" rx="4.2" ry="4.5"/>
<ellipse cx="594.2" cy="1330.5" rx="4.2" ry="4.5"/>
<ellipse cx="598.4" cy="1330.5" rx="4.2" ry="4.5"/>
<ellipse cx="602.5" cy="1330.5" rx="4.2" ry="4.5"/>
<ellipse cx="606.6" cy="1330.5" rx="4.2" ry="4.5"/>
<ellipse cx="610.8" cy="1330.5" rx="4.2" ry="4.5"/>
<ellipse cx="614.9" cy="1330.5" rx="4.2" ry="4.5"/>
<ellipse cx="619.1" cy="1330.5" rx="4.2" ry="4.5"/>
<ellipse cx="623.2" cy="1330.5" rx="4.2" ry="4.5"/>
<ellipse cx="627.4" cy="1330.8" rx="4.2" ry="4.5"/>
<ellipse cx="631.5" cy="1332.3" rx="4.2" ry="4.5"/>
<ellipse cx="635.7" cy="1333.0" rx="4.2" ry="4.5"/>
<ellipse cx="639.8" cy="1333.1" rx="4.2" ry="4.5"/>
<ellipse cx="644.0" cy="1333.1" rx="4.2" ry="4.5"/>
<ellipse cx="648.1" cy="1333.2" rx="4.2" ry="4.5"/>
<ellipse cx="652.2" cy="1333.2" rx="4.2" ry="4.5"/>
<ellipse cx="656.4" cy="1333.2" rx="4.2" ry="4.5"/>
<ellipse cx="660.5" cy="1333.2" rx="4.2" ry="4.5"/>
<ellipse cx="664.7" cy="1333.3" rx="4.2" ry="4.5"/>
<ellipse cx="668.8" cy="1333.3" rx="4.2" ry="4.5"/>
<ellipse cx="673.0" cy="1333.3" rx="4.2" ry="4.5"/>
<ellipse cx="677.1" cy="1333.3" rx="4.2" ry="4.5"/>
<ellipse cx="681.3" cy="1333.3" rx="4.2" ry="4.5"/>
<ellipse cx="685.4" cy="1333.4" rx="4.2" ry="4.5"/>
<ellipse cx="689.5" cy="1333.4" rx="4.2" ry="4.5"/>
<ellipse cx="693.7" cy="1333.5" rx="4.2" ry="4.5"/>
<ellipse cx="697.8" cy="1333.8" rx="4.2" ry="4.5"/>
<ellipse cx="702.0" cy="1334.8" rx="4.2" ry="4.5"/>
<ellipse cx="706.1" cy="1336.0" rx="4.2" ry="4.5"/>
<ellipse cx="710.3" cy="1337.2" rx="4.2" ry="4.5"/>
<ellipse cx="714.4" cy="1338.7" rx="4.2" ry="4.5"/>
<ellipse cx="718.6" cy="1340.9" rx="4.2" ry="4.5"/>
</g>
<g fill="#fff" stroke="#606060" stroke-width="2">
<ellipse cx="722.7" cy="1346.4" rx="4" ry="4.3"/>
<ellipse cx="726.9" cy="1367.9" rx="4" ry="4.3"/>
<ellipse cx="731.0" cy="1394.3" rx="4" ry="4.3"/>
<ellipse cx="735.1" cy="1422.0" rx="4" ry="4.3"/>
<ellipse cx="739.3" cy="1450.4" rx="4" ry="4.3"/>
<ellipse cx="743.4" cy="1478.5" rx="4" ry="4.3"/>
<ellipse cx="747.6" cy="1505.6" rx="4" ry="4.3"/>
<ellipse cx="751.7" cy="1531.0" rx="4" ry="4.3"/>
<ellipse cx="755.9" cy="1554.7" rx="4" ry="4.3"/>
<ellipse cx="760.0" cy="1576.4" rx="4" ry="4.3"/>
<ellipse cx="764.2" cy="1596.5" rx="4" ry="4.3"/>
<ellipse cx="768.3" cy="1615.0" rx="4" ry="4.3"/>
<ellipse cx="772.4" cy="1632.0" rx="4" ry="4.3"/>
<ellipse cx="776.6" cy="1647.7" rx="4" ry="4.3"/>
<ellipse cx="780.7" cy="1662.3" rx="4" ry="4.3"/>
<ellipse cx="784.9" cy="1675.9" rx="4" ry="4.3"/>
<ellipse cx="789.0" cy="1688.6" rx="4" ry="4.3"/>
<ellipse cx="793.2" cy="1700.5" rx="4" ry="4.3"/>
<ellipse cx="797.3" cy="1711.6" rx="4" ry="4.3"/>
<ellipse cx="801.5" cy="1722.1" rx="4" ry="4.3"/>
<ellipse cx="805.6" cy="1732.0" rx="4" ry="4.3"/>
<ellipse cx="809.7" cy="1741.4" rx="4" ry="4.3"/>
<ellipse cx="813.9" cy="1750.3" rx="4" ry="4.3"/>
<ellipse cx="818.0" cy="1758.7" rx="4" ry="4.3"/>
<ellipse cx="822.2" cy="1766.7" rx="4" ry="4.3"/>
<ellipse cx="826.3" cy="1774.3" rx="4" ry="4.3"/>
<ellipse cx="830.5" cy="1781.6" rx="4" ry="4.3"/>
<ellipse cx="834.6" cy="1788.6" rx="4" ry="4.3"/>
<ellipse cx="838.8" cy="1795.2" rx="4" ry="4.3"/>
<ellipse cx="842.9" cy="1801.6" rx="4" ry="4.3"/>
<ellipse cx="847.1" cy="1807.7" rx="4" ry="4.3"/>
<ellipse cx="851.2" cy="1813.5" rx="4" ry="4.3"/>
<ellipse cx="859.5" cy="1824.6" rx="4" ry="4.3"/>
<ellipse cx="867.8" cy="1834.8" rx="4" ry="4.3"/>
<ellipse cx="876.1" cy="1844.3" rx="4" ry="4.3"/>
<ellipse cx="884.4" cy="1853.3" rx="4" ry="4.3"/>
<ellipse cx="892.6" cy="1861.7" rx="4" ry="4.3"/>
<ellipse cx="900.9" cy="1869.6" rx="4" ry="4.3"/>
<ellipse cx="909.2" cy="1877.0" rx="4" ry="4.3"/>
<ellipse cx="917.5" cy="1884.1" rx="4" ry="4.3"/>
<ellipse cx="925.8" cy="1890.7" rx="4" ry="4.3"/>
<ellipse cx="934.1" cy="1897.0" rx="4" ry="4.3"/>
<ellipse cx="942.4" cy="1903.0" rx="4" ry="4.3"/>
<ellipse cx="950.7" cy="1908.6" rx="4" ry="4.3"/>
<ellipse cx="959.0" cy="1913.9" rx="4" ry="4.3"/>
<ellipse cx="967.3" cy="1919.0" rx="4" ry="4.3"/>
<ellipse cx="975.5" cy="1923.8" rx="4" ry="4.3"/>
<ellipse cx="983.8" cy="1928.4" rx="4" ry="4.3"/>
<ellipse cx="992.1" cy="1932.7" rx="4" ry="4.3"/>
<ellipse cx="1000.4" cy="1936.9" rx="4" ry="4.3"/>
<ellipse cx="1008.7" cy="1940.8" rx="4" ry="4.3"/>
<ellipse cx="1017.0" cy="1944.6" rx="4" ry="4.3"/>
<ellipse cx="1025.3" cy="1948.2" rx="4" ry="4.3"/>
<ellipse cx="1033.6" cy="1951.7" rx="4" ry="4.3"/>
<ellipse cx="1041.9" cy="1954.9" rx="4" ry="4.3"/>
<ellipse cx="1050.2" cy="1958.1" rx="4" ry="4.3"/>
<ellipse cx="1058.4" cy="1961.1" rx="4" ry="4.3"/>
<ellipse cx="1066.7" cy="1964.0" rx="4" ry="4.3"/>
<ellipse cx="1075.0" cy="1966.8" rx="4" ry="4.3"/>
<ellipse cx="1083.3" cy="1969.4" rx="4" ry="4.3"/>
<ellipse cx="1091.6" cy="1972.0" rx="4" ry="4.3"/>
<ellipse cx="1099.9" cy="1974.4" rx="4" ry="4.3"/>
<ellipse cx="1120.6" cy="1980.1" rx="4" ry="4.3"/>
<ellipse cx="1141.3" cy="1985.2" rx="4" ry="4.3"/>
<ellipse cx="1162.1" cy="1989.9" rx="4" ry="4.3"/>
<ellipse cx="1182.8" cy="1994.0" rx="4" ry="4.3"/>
<ellipse cx="1203.5" cy="1997.8" rx="4" ry="4.3"/>
<ellipse cx="1224.2" cy="2001.3" rx="4" ry="4.3"/>
<ellipse cx="1245.0" cy="2004.5" rx="4" ry="4.3"/>
<ellipse cx="1265.7" cy="2007.4" rx="4" ry="4.3"/>
<ellipse cx="1286.4" cy="2010.2" rx="4" ry="4.3"/>
<ellipse cx="1307.2" cy="2012.8" rx="4" ry="4.3"/>
<ellipse cx="1327.9" cy="2015.3" rx="4" ry="4.3"/>
<ellipse cx="1348.6" cy="2017.7" rx="4" ry="4.3"/>
<ellipse cx="1369.3" cy="2020.1" rx="4" ry="4.3"/>
<ellipse cx="1390.1" cy="2022.5" rx="4" ry="4.3"/>
<ellipse cx="1410.8" cy="2025.1" rx="4" ry="4.3"/>
</g>
<path d="M272.3 1277.8 L275.2 1278.6 L278.1 1279.5 L281.0 1280.3 L283.8 1281.1 L286.7 1281.9 L289.6 1282.7 L292.5 1283.5 L295.4 1284.2 L298.3 1285.0 L301.2 1285.7 L304.2 1286.4 L307.1 1287.1 L310.0 1287.8 L312.9 1288.5 L315.8 1289.2 L318.7 1290.0 L321.6 1290.7 L324.5 1291.4 L327.4 1292.2 L330.4 1292.9 L333.3 1293.6 L336.2 1294.3 L339.1 1294.9 L342.1 1295.4 L345.1 1295.9 L348.0 1296.3 L351.0 1296.7 L354.0 1297.1 L357.0 1297.4 L359.9 1297.7 L362.9 1298.0 L365.9 1298.3 L368.9 1298.5 L371.9 1298.7 L374.9 1298.9 L377.9 1299.0 L380.9 1299.1 L383.9 1299.2 L386.9 1299.3 L389.9 1299.4 L392.9 1299.5 L395.9 1299.6 L398.9 1299.7 L401.9 1299.7 L404.9 1299.8 L407.9 1299.8 L410.9 1299.9 L413.9 1299.9 L416.9 1300.0 L419.9 1300.0 L422.9 1300.0 L425.9 1300.0 L428.9 1300.1 L431.9 1300.1 L434.9 1300.1 L437.9 1300.1 L440.9 1300.1 L443.9 1300.2 L446.9 1300.2 L449.9 1300.2 L452.9 1300.2 L455.9 1300.2 L458.9 1300.2 L461.9 1300.2 L464.9 1300.2 L467.9 1300.3 L470.9 1300.3 L473.9 1300.3 L476.9 1300.3 L479.9 1300.3 L482.9 1300.3 L485.9 1300.3 L488.9 1300.3 L491.9 1300.3 L494.9 1300.3 L497.9 1300.4 L500.9 1300.4 L503.9 1300.4 L506.9 1300.4 L509.9 1300.4 L512.9 1300.4 L515.9 1300.4 L518.9 1300.4 L521.9 1300.4 L524.9 1300.4 L527.9 1300.4 L530.9 1300.4 L533.9 1300.5 L536.9 1300.5 L539.9 1300.5 L542.9 1300.5 L545.9 1300.6 L548.9 1300.7 L551.9 1300.9 L554.9 1301.0 L557.9 1301.2 L560.9 1301.4 L563.8 1301.7 L566.8 1301.9 L569.8 1302.2 L572.8 1302.4 L575.8 1302.7 L578.8 1303.0 L581.8 1303.3 L584.8 1303.6 L587.7 1303.9 L590.7 1304.2 L593.7 1304.6 L596.7 1305.1 L599.6 1305.5 L602.6 1306.0 L605.5 1306.5 L608.5 1307.0 L611.5 1307.5 L614.4 1308.0 L617.4 1308.4 L620.3 1308.9 L623.3 1309.4 L626.3 1309.9 L629.2 1310.4 L632.2 1310.9 L635.1 1311.5 L638.1 1312.0 L641.0 1312.6 L644.0 1313.1 L646.9 1313.7 L649.9 1314.3 L652.8 1314.9 L655.7 1315.6 L658.7 1316.2 L661.6 1316.9 L664.5 1317.6 L667.4 1318.3 L670.3 1319.0 L673.3 1319.7 L676.2 1320.4 L679.1 1321.1 L682.0 1321.7 L684.9 1322.4 L687.8 1323.2 L690.7 1323.9 L693.6 1324.7 L696.5 1325.5 L699.4 1326.4 L702.2 1327.4 L705.1 1328.4 L707.8 1329.5 L710.6 1330.8 L713.2 1332.2 L715.7 1333.9 L717.9 1335.9 L719.9 1338.2 L721.4 1340.8 L722.3 1343.6 L723.0 1346.5 L723.7 1349.4 L724.3 1352.4 L724.8 1355.3 L725.3 1358.3 L725.8 1361.3 L726.2 1364.2 L726.7 1367.2 L727.2 1370.1 L727.7 1373.1 L728.2 1376.1 L728.6 1379.0 L729.1 1382.0 L729.6 1385.0 L730.0 1387.9 L730.5 1390.9 L730.9 1393.8 L731.4 1396.8 L731.8 1399.8 L732.3 1402.7 L732.7 1405.7 L733.2 1408.7 L733.6 1411.6 L734.1 1414.6 L734.5 1417.6 L734.9 1420.5 L735.4 1423.5 L735.8 1426.5 L736.2 1429.5 L736.7 1432.4 L737.1 1435.4 L737.5 1438.4 L738.0 1441.3 L738.4 1444.3 L738.8 1447.3 L739.3 1450.2 L739.7 1453.2 L740.1 1456.2 L740.6 1459.1 L741.0 1462.1 L741.4 1465.1 L741.9 1468.0 L742.3 1471.0 L742.8 1474.0 L743.2 1476.9 L743.6 1479.9 L744.1 1482.9 L744.5 1485.8 L745.0 1488.8 L745.4 1491.8 L745.9 1494.7 L746.4 1497.7 L746.8 1500.7 L747.3 1503.6 L747.7 1506.6 L748.2 1509.6 L748.7 1512.5 L749.2 1515.5 L749.6 1518.4 L750.1 1521.4 L750.6 1524.4 L751.1 1527.3 L751.6 1530.3 L752.1 1533.2 L752.6 1536.2 L753.1 1539.2 L753.6 1542.1 L754.1 1545.1 L754.7 1548.0 L755.2 1551.0 L755.7 1553.9 L756.3 1556.9 L756.8 1559.8 L757.4 1562.8 L757.9 1565.7 L758.5 1568.7 L759.1 1571.6 L759.6 1574.6 L760.2 1577.5 L760.8 1580.4 L761.4 1583.4 L762.0 1586.3 L762.6 1589.3 L763.2 1592.2 L763.9 1595.1 L764.5 1598.1 L765.1 1601.0 L765.8 1603.9 L766.4 1606.9 L767.1 1609.8 L767.8 1612.7 L768.5 1615.6 L769.1 1618.5 L769.8 1621.5 L770.5 1624.4 L771.3 1627.3 L772.0 1630.2 L772.7 1633.1 L773.5 1636.0 L774.2 1638.9 L775.0 1641.8 L775.8 1644.7 L776.6 1647.6 L777.4 1650.5 L778.2 1653.4 L779.0 1656.3 L779.8 1659.2 L780.6 1662.0 L781.5 1664.9 L782.4 1667.8 L783.2 1670.7 L784.1 1673.5 L785.0 1676.4 L785.9 1679.2 L786.9 1682.1 L787.8 1685.0 L788.8 1687.8 L789.7 1690.6 L790.7 1693.5 L791.7 1696.3 L792.7 1699.1 L793.7 1702.0 L794.7 1704.8 L795.8 1707.6 L796.8 1710.4 L797.9 1713.2 L799.0 1716.0 L800.1 1718.8 L801.2 1721.6 L802.4 1724.3 L803.5 1727.1 L804.7 1729.9 L805.9 1732.6 L807.1 1735.4 L808.3 1738.1 L809.5 1740.9 L810.8 1743.6 L812.0 1746.3 L813.3 1749.0 L814.6 1751.7 L815.9 1754.4 L817.2 1757.1 L818.6 1759.8 L820.0 1762.5 L821.3 1765.1 L822.8 1767.8 L824.2 1770.4 L825.6 1773.0 L827.1 1775.7 L828.5 1778.3 L830.0 1780.9 L831.6 1783.5 L833.1 1786.0 L834.6 1788.6 L836.2 1791.2 L837.8 1793.7 L839.4 1796.2 L841.0 1798.8 L842.7 1801.3 L844.4 1803.8 L846.1 1806.2 L847.8 1808.7 L849.5 1811.2 L851.2 1813.6 L853.0 1816.0 L854.8 1818.4 L856.6 1820.8 L858.4 1823.2 L860.3 1825.6 L862.1 1827.9 L864.0 1830.3 L865.9 1832.6 L867.8 1834.9 L869.8 1837.2 L871.7 1839.4 L873.7 1841.7 L875.7 1843.9 L877.7 1846.2 L879.7 1848.4 L881.8 1850.6 L883.9 1852.8 L885.9 1854.9 L888.0 1857.1 L890.1 1859.2 L892.3 1861.3 L894.4 1863.4 L896.6 1865.5 L898.8 1867.5 L901.0 1869.6 L903.2 1871.6 L905.4 1873.6 L907.6 1875.6 L909.9 1877.6 L912.2 1879.6 L914.4 1881.5 L916.7 1883.4 L919.1 1885.3 L921.4 1887.2 L923.7 1889.1 L926.1 1890.9 L928.5 1892.8 L930.9 1894.6 L933.3 1896.4 L935.7 1898.2 L938.1 1899.9 L940.6 1901.7 L943.0 1903.4 L945.5 1905.1 L948.0 1906.8 L950.5 1908.4 L953.0 1910.1 L955.5 1911.7 L958.0 1913.3 L960.6 1914.9 L963.1 1916.5 L965.7 1918.0 L968.3 1919.6 L970.8 1921.1 L973.4 1922.6 L976.1 1924.1 L978.7 1925.5 L981.3 1927.0 L983.9 1928.4 L986.6 1929.8 L989.2 1931.2 L991.9 1932.6 L994.6 1934.0 L997.3 1935.3 L999.9 1936.6 L1002.6 1938.0 L1005.4 1939.2 L1008.1 1940.5 L1010.8 1941.8 L1013.5 1943.0 L1016.3 1944.3 L1019.0 1945.5 L1021.7 1946.7 L1024.5 1947.9 L1027.3 1949.0 L1030.0 1950.2 L1032.8 1951.3 L1035.6 1952.5 L1038.4 1953.6 L1041.2 1954.7 L1044.0 1955.8 L1046.8 1956.8 L1049.6 1957.9 L1052.4 1958.9 L1055.2 1960.0 L1058.0 1961.0 L1060.9 1962.0 L1063.7 1963.0 L1066.5 1963.9 L1069.4 1964.9 L1072.2 1965.9 L1075.1 1966.8 L1077.9 1967.7 L1080.8 1968.6 L1083.6 1969.5 L1086.5 1970.4 L1089.4 1971.3 L1092.2 1972.2 L1095.1 1973.0 L1098.0 1973.9 L1100.9 1974.7 L1103.8 1975.5 L1106.6 1976.3 L1109.5 1977.1 L1112.4 1977.9 L1115.3 1978.7 L1118.2 1979.5 L1121.1 1980.2 L1124.0 1981.0 L1126.9 1981.7 L1129.8 1982.5 L1132.8 1983.2 L1135.7 1983.9 L1138.6 1984.6 L1141.5 1985.3 L1144.4 1985.9 L1147.4 1986.6 L1150.3 1987.3 L1153.2 1987.9 L1156.1 1988.6 L1159.1 1989.2 L1162.0 1989.8 L1164.9 1990.5 L1167.9 1991.1 L1170.8 1991.7 L1173.8 1992.3 L1176.7 1992.8 L1179.6 1993.4 L1182.6 1994.0 L1185.5 1994.6 L1188.5 1995.1 L1191.4 1995.7 L1194.4 1996.2 L1197.3 1996.7 L1200.3 1997.3 L1203.2 1997.8 L1206.2 1998.3 L1209.2 1998.8 L1212.1 1999.3 L1215.1 1999.8 L1218.0 2000.3 L1221.0 2000.8 L1224.0 2001.3 L1226.9 2001.7 L1229.9 2002.2 L1232.9 2002.6 L1235.8 2003.1 L1238.8 2003.6 L1241.8 2004.0 L1244.7 2004.4 L1247.7 2004.9 L1250.7 2005.3 L1253.6 2005.7 L1256.6 2006.2 L1259.6 2006.6 L1262.5 2007.0 L1265.5 2007.4 L1268.5 2007.8 L1271.5 2008.2 L1274.4 2008.6 L1277.4 2009.0 L1280.4 2009.4 L1283.4 2009.8 L1286.3 2010.2 L1289.3 2010.5 L1292.3 2010.9 L1295.3 2011.3 L1298.2 2011.7 L1301.2 2012.0 L1304.2 2012.4 L1307.2 2012.8 L1310.1 2013.1 L1313.1 2013.5 L1316.1 2013.9 L1319.1 2014.2 L1322.1 2014.6 L1325.0 2014.9 L1328.0 2015.3 L1331.0 2015.6 L1334.0 2016.0 L1337.0 2016.3 L1339.9 2016.7 L1342.9 2017.0 L1345.9 2017.4 L1348.9 2017.7 L1351.9 2018.1 L1354.8 2018.4 L1357.8 2018.8 L1360.8 2019.1 L1363.8 2019.5 L1366.7 2019.8 L1369.7 2020.1 L1372.7 2020.5 L1375.7 2020.8 L1378.7 2021.2 L1381.6 2021.5 L1384.6 2021.9 L1387.6 2022.3 L1390.6 2022.6 L1393.6 2023.0 L1396.5 2023.3 L1399.5 2023.7 L1402.5 2024.0 L1405.5 2024.4 L1408.5 2024.8 L1411.4 2025.1 L1414.4 2025.5 L1417.4 2025.9 L1420.4 2026.3 L1423.3 2026.6 L1426.3 2027.0 L1429.3 2027.4 L1432.3 2027.8" fill="none" stroke="#ff0000" stroke-width="5.5" stroke-linejoin="round"/>
</g>
<rect x="185.3" y="1186.3" width="5.2" height="930.6" fill="#000"/>
<rect x="185.3" y="2110.8" width="1249.7" height="6.1" fill="#000"/>
</g>
<g id="labels" class="soft" font-family="'Liberation Serif', 'DejaVu Serif', serif" fill="#000">
<text id="t_a_y10" transform="translate(178 381) scale(0.910 1)" font-size="76" text-anchor="end">10</text>
<text id="t_a_y5" transform="translate(175.2 693) scale(0.910 1)" font-size="76" text-anchor="end">5</text>
<text id="t_a_x0" transform="translate(187.3 1061.5) scale(0.910 1)" font-size="76" text-anchor="middle">0</text>
<text id="t_a_x1" transform="translate(604 1061.5) scale(0.910 1)" font-size="76" text-anchor="middle">100</text>
<text id="t_a_x2" transform="translate(1017.5 1061.5) scale(0.910 1)" font-size="76" text-anchor="middle">200</text>
<text id="t_a_x3" transform="translate(1432.5 1061.5) scale(0.910 1)" font-size="76" text-anchor="middle">300</text>
<text id="t_a_r8" transform="translate(1444 79) scale(0.860 1)" font-size="77">8</text>
<text id="t_a_r4" transform="translate(1442 540.5) scale(0.910 1)" font-size="76">4</text>
<text id="t_a_formula" transform="translate(379 244) scale(0.890 1)" font-size="91">Er<tspan font-size="61" dy="22.5">4</tspan><tspan dy="-22.5">PtAl</tspan></text>
<text id="t_a_field" transform="translate(383 348) scale(0.900 1)" font-size="75.5" word-spacing="-2.4"><tspan font-style="italic">H</tspan> = 5 kOe</text>
<text id="t_a_tag" transform="translate(754 862.8) scale(0.900 1)" font-size="75.5" letter-spacing="0.8">(a)</text>
<text id="t_a_xt" transform="translate(801.9 1158.6) scale(0.890 1)" font-size="91.5" text-anchor="middle" word-spacing="-3"><tspan font-style="italic">T</tspan> (K)</text>
<text id="t_a_ychi" transform="translate(102.2 729.6) rotate(-90) skewX(-23) scale(0.880 1)" font-size="74.5" font-style="italic" stroke="#000" stroke-width="1.3" stroke-linejoin="round">χ</text>
<text id="t_a_yt" transform="translate(102.4 664.9) rotate(-90) scale(1.112 1)" font-size="80">(emu/mol)</text>
<text id="t_a_rchi" transform="translate(1555.6 713.6) rotate(-90) skewX(-23) scale(0.880 1)" font-size="74.5" font-style="italic" stroke="#000" stroke-width="1.3" stroke-linejoin="round">χ</text>
<text id="t_a_rsup" transform="translate(1522 675.1) rotate(-90) scale(1.130 1)" font-size="50" font-style="italic" letter-spacing="1.5">-1</text>
<text id="t_a_rt" transform="translate(1555.8 601.2) rotate(-90) scale(1.112 1)" font-size="80">(mol/emu)</text>
<text id="t_b_y16" transform="translate(171 1314.8) scale(0.910 1)" font-size="76" text-anchor="end">16</text>
<text id="t_b_y12" transform="translate(171 1520.6) scale(0.910 1)" font-size="76" text-anchor="end">12</text>
<text id="t_b_y8" transform="translate(171 1726.4) scale(0.910 1)" font-size="76" text-anchor="end">8</text>
<text id="t_b_y4" transform="translate(171 1932.2) scale(0.910 1)" font-size="76" text-anchor="end">4</text>
<text id="t_b_x0" transform="translate(187.5 2191) scale(0.910 1)" font-size="76" text-anchor="middle">0</text>
<text id="t_b_x1" transform="translate(604 2191) scale(0.910 1)" font-size="76" text-anchor="middle">10</text>
<text id="t_b_x2" transform="translate(1014.8 2191) scale(0.910 1)" font-size="76" text-anchor="middle">20</text>
<text id="t_b_x3" transform="translate(1431.6 2191) scale(0.910 1)" font-size="76" text-anchor="middle">30</text>
<text id="t_b_fc" transform="translate(294 1275.3) scale(0.900 1)" font-size="75.5" fill="#ff0000">FC</text>
<text id="t_b_zfc" transform="translate(270.5 1430.7) scale(0.900 1)" font-size="75.5">ZFC</text>
<text id="t_b_field" transform="translate(321 1704) scale(0.900 1)" font-size="75.5" word-spacing="-2"><tspan font-style="italic">H</tspan> = 100 Oe</text>
<text id="t_b_tag" transform="translate(671.5 1988) scale(0.900 1)" font-size="75.5">(b)</text>
<text id="t_b_xt" transform="translate(797.2 2275.4) scale(0.890 1)" font-size="91.5" text-anchor="middle" word-spacing="-3"><tspan font-style="italic">T</tspan> (K)</text>
<text id="t_b_ychi" transform="translate(79.8 1842.8) rotate(-90) skewX(-23) scale(0.880 1)" font-size="74.5" font-style="italic" stroke="#000" stroke-width="1.3" stroke-linejoin="round">χ</text>
<text id="t_b_yt" transform="translate(80.2 1779) rotate(-90) scale(1.112 1)" font-size="80">(emu/mol)</text>
</g>
</g>
</svg>
</body>
</html>
